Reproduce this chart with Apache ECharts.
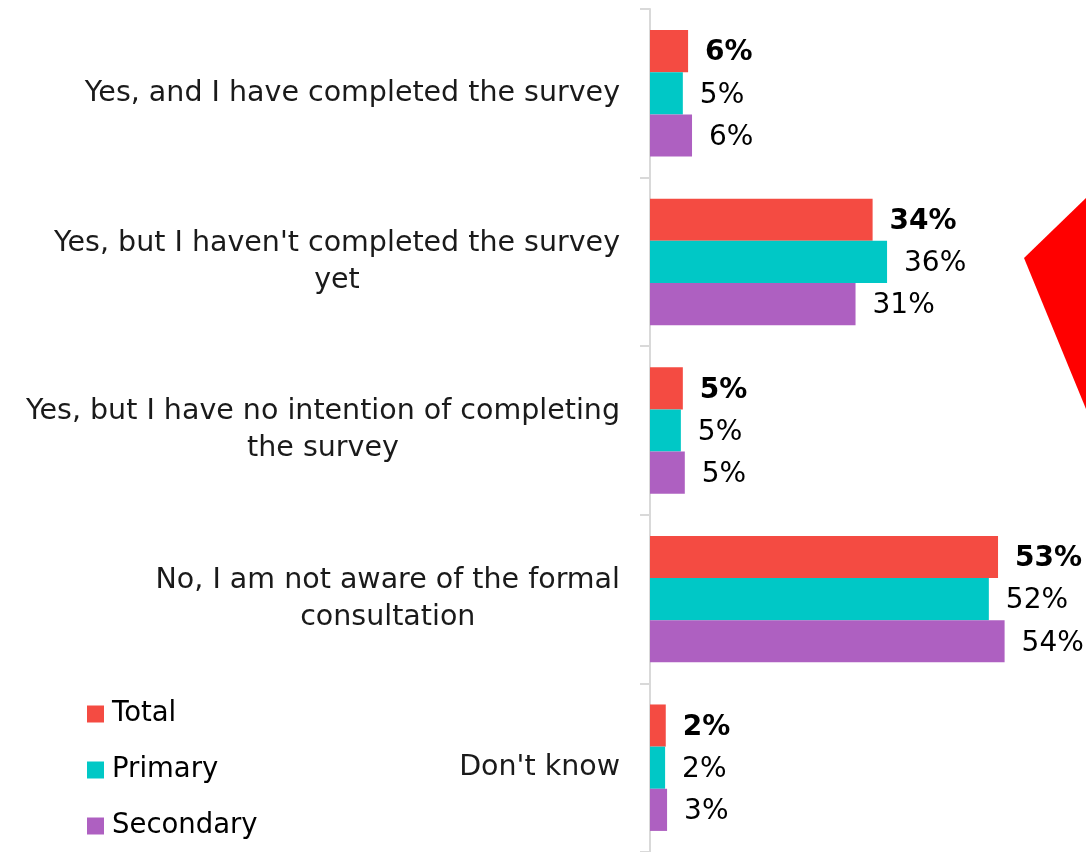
<!DOCTYPE html>
<html>
<head>
<meta charset="utf-8">
<script src="https://cdn.jsdelivr.net/npm/echarts@6/dist/echarts.min.js"></script>
<style>
  html, body { margin: 0; padding: 0; background: #fff; }
  #main { width: 1086px; height: 852px; }
</style>
</head>
<body>
<div id="main"></div>
<script>
var categories = [
  "Yes, and I have completed the survey",
  "Yes, but I haven't completed the survey\nyet",
  "Yes, but I have no intention of completing\nthe survey",
  "No, I am not aware of the formal\nconsultation",
  "Don't know"
];
var total = [5.8, 33.9, 5.0, 53.0, 2.4];
var primary = [5.0, 36.1, 4.7, 51.6, 2.3];
var secondary = [6.4, 31.3, 5.3, 54.0, 2.6];

var FONT = "DejaVu Sans";

function makeSeries(name, data, color, bold) {
  return {
    name: name,
    type: "bar",
    data: data,
    barGap: "0%",
    barCategoryGap: "25%",
    itemStyle: { color: color },
    label: {
      show: true,
      position: "right",
      distance: 17,
      offset: [0, 2],
      color: "#000",
      fontFamily: FONT,
      fontSize: 28,
      fontWeight: bold ? "bold" : "normal",
      formatter: function (p) {
        return Math.round(p.value) + "%";
      },
    },
  };
}

var chartDom = document.getElementById("main");
var myChart = echarts.init(chartDom, null, { renderer: "canvas" });

var option = {
  animation: false,
  textStyle: { fontFamily: FONT },
  grid: { left: 650, right: 42, top: 9, height: 845, containLabel: false },
  legend: {
    orient: "vertical",
    left: 87,
    top: 700,
    padding: 0,
    icon: "rect",
    itemWidth: 17,
    itemHeight: 17,
    itemGap: 28,
    data: ["Total", "Primary", "Secondary"],
    textStyle: { fontFamily: FONT, fontSize: 27.5, color: "#000", padding: [0, 0, 0, 3] },
  },
  xAxis: {
    type: "value",
    min: 0,
    max: 60,
    show: false,
    splitLine: { show: false },
  },
  yAxis: {
    type: "category",
    inverse: true,
    data: categories,
    axisLine: { show: true, lineStyle: { color: "#d9d9d9", width: 2 } },
    axisTick: { show: true, length: 10, lineStyle: { color: "#d9d9d9", width: 2 } },
    axisLabel: {
      margin: 30,
      color: "#1a1a1a",
      fontFamily: FONT,
      fontSize: 28.5,
      lineHeight: 37,
      formatter: function (v) {
        return v.split("\n").map(function (s) { return "{a|" + s + "}"; }).join("\n");
      },
      rich: {
        a: { align: "center", fontFamily: FONT, fontSize: 28.5, lineHeight: 37, color: "#1a1a1a" },
      },
    },
  },
  graphic: [
    {
      type: "polygon",
      shape: { points: [[1086, 198], [1024, 258], [1086, 409]] },
      style: { fill: "#ff0000" },
    },
  ],
  series: [
    makeSeries("Total", total, "#f44b42", true),
    makeSeries("Primary", primary, "#00c8c6", false),
    makeSeries("Secondary", secondary, "#ae60c1", false),
  ],
};

myChart.setOption(option);
</script>
</body>
</html>
